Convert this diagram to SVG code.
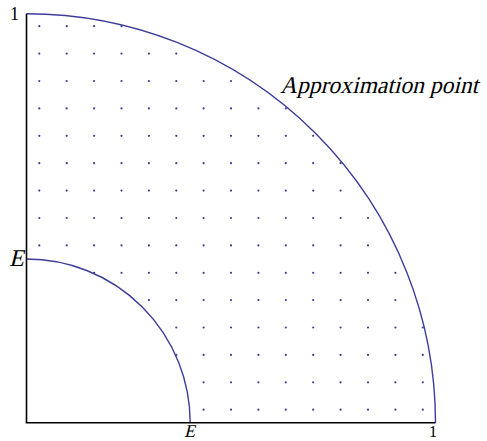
<svg xmlns="http://www.w3.org/2000/svg" width="487" height="441" viewBox="0 0 487 441">
<style>
.ax{stroke:#000;stroke-width:1.6;fill:none}
.arc{stroke:#3d3d9c;stroke-width:1.4;fill:none}
.dots circle{fill:#3d3d9c}
</style>
<rect width="487" height="441" fill="#fff"/>
<g id="dots" class="dots">
<circle cx="203.6" cy="409.7" r="1.1"/><circle cx="231.0" cy="409.7" r="1.1"/><circle cx="258.4" cy="409.7" r="1.1"/><circle cx="285.8" cy="409.7" r="1.1"/><circle cx="313.2" cy="409.7" r="1.1"/><circle cx="340.6" cy="409.7" r="1.1"/><circle cx="368.0" cy="409.7" r="1.1"/><circle cx="395.4" cy="409.7" r="1.1"/><circle cx="422.8" cy="409.7" r="1.1"/>
<circle cx="203.6" cy="382.3" r="1.1"/><circle cx="231.0" cy="382.3" r="1.1"/><circle cx="258.4" cy="382.3" r="1.1"/><circle cx="285.8" cy="382.3" r="1.1"/><circle cx="313.2" cy="382.3" r="1.1"/><circle cx="340.6" cy="382.3" r="1.1"/><circle cx="368.0" cy="382.3" r="1.1"/><circle cx="395.4" cy="382.3" r="1.1"/><circle cx="422.8" cy="382.3" r="1.1"/>
<circle cx="176.3" cy="354.9" r="1.1"/><circle cx="203.6" cy="354.9" r="1.1"/><circle cx="231.0" cy="354.9" r="1.1"/><circle cx="258.4" cy="354.9" r="1.1"/><circle cx="285.8" cy="354.9" r="1.1"/><circle cx="313.2" cy="354.9" r="1.1"/><circle cx="340.6" cy="354.9" r="1.1"/><circle cx="368.0" cy="354.9" r="1.1"/><circle cx="395.4" cy="354.9" r="1.1"/><circle cx="422.8" cy="354.9" r="1.1"/>
<circle cx="176.3" cy="327.5" r="1.1"/><circle cx="203.6" cy="327.5" r="1.1"/><circle cx="231.0" cy="327.5" r="1.1"/><circle cx="258.4" cy="327.5" r="1.1"/><circle cx="285.8" cy="327.5" r="1.1"/><circle cx="313.2" cy="327.5" r="1.1"/><circle cx="340.6" cy="327.5" r="1.1"/><circle cx="368.0" cy="327.5" r="1.1"/><circle cx="395.4" cy="327.5" r="1.1"/><circle cx="422.8" cy="327.5" r="1.1"/>
<circle cx="148.9" cy="300.1" r="1.1"/><circle cx="176.3" cy="300.1" r="1.1"/><circle cx="203.6" cy="300.1" r="1.1"/><circle cx="231.0" cy="300.1" r="1.1"/><circle cx="258.4" cy="300.1" r="1.1"/><circle cx="285.8" cy="300.1" r="1.1"/><circle cx="313.2" cy="300.1" r="1.1"/><circle cx="340.6" cy="300.1" r="1.1"/><circle cx="368.0" cy="300.1" r="1.1"/><circle cx="395.4" cy="300.1" r="1.1"/>
<circle cx="94.1" cy="272.8" r="1.1"/><circle cx="121.5" cy="272.8" r="1.1"/><circle cx="148.9" cy="272.8" r="1.1"/><circle cx="176.3" cy="272.8" r="1.1"/><circle cx="203.6" cy="272.8" r="1.1"/><circle cx="231.0" cy="272.8" r="1.1"/><circle cx="258.4" cy="272.8" r="1.1"/><circle cx="285.8" cy="272.8" r="1.1"/><circle cx="313.2" cy="272.8" r="1.1"/><circle cx="340.6" cy="272.8" r="1.1"/><circle cx="368.0" cy="272.8" r="1.1"/><circle cx="395.4" cy="272.8" r="1.1"/>
<circle cx="39.3" cy="245.4" r="1.1"/><circle cx="66.7" cy="245.4" r="1.1"/><circle cx="94.1" cy="245.4" r="1.1"/><circle cx="121.5" cy="245.4" r="1.1"/><circle cx="148.9" cy="245.4" r="1.1"/><circle cx="176.3" cy="245.4" r="1.1"/><circle cx="203.6" cy="245.4" r="1.1"/><circle cx="231.0" cy="245.4" r="1.1"/><circle cx="258.4" cy="245.4" r="1.1"/><circle cx="285.8" cy="245.4" r="1.1"/><circle cx="313.2" cy="245.4" r="1.1"/><circle cx="340.6" cy="245.4" r="1.1"/><circle cx="368.0" cy="245.4" r="1.1"/>
<circle cx="39.3" cy="218.0" r="1.1"/><circle cx="66.7" cy="218.0" r="1.1"/><circle cx="94.1" cy="218.0" r="1.1"/><circle cx="121.5" cy="218.0" r="1.1"/><circle cx="148.9" cy="218.0" r="1.1"/><circle cx="176.3" cy="218.0" r="1.1"/><circle cx="203.6" cy="218.0" r="1.1"/><circle cx="231.0" cy="218.0" r="1.1"/><circle cx="258.4" cy="218.0" r="1.1"/><circle cx="285.8" cy="218.0" r="1.1"/><circle cx="313.2" cy="218.0" r="1.1"/><circle cx="340.6" cy="218.0" r="1.1"/><circle cx="368.0" cy="218.0" r="1.1"/>
<circle cx="39.3" cy="190.6" r="1.1"/><circle cx="66.7" cy="190.6" r="1.1"/><circle cx="94.1" cy="190.6" r="1.1"/><circle cx="121.5" cy="190.6" r="1.1"/><circle cx="148.9" cy="190.6" r="1.1"/><circle cx="176.3" cy="190.6" r="1.1"/><circle cx="203.6" cy="190.6" r="1.1"/><circle cx="231.0" cy="190.6" r="1.1"/><circle cx="258.4" cy="190.6" r="1.1"/><circle cx="285.8" cy="190.6" r="1.1"/><circle cx="313.2" cy="190.6" r="1.1"/><circle cx="340.6" cy="190.6" r="1.1"/>
<circle cx="39.3" cy="163.2" r="1.1"/><circle cx="66.7" cy="163.2" r="1.1"/><circle cx="94.1" cy="163.2" r="1.1"/><circle cx="121.5" cy="163.2" r="1.1"/><circle cx="148.9" cy="163.2" r="1.1"/><circle cx="176.3" cy="163.2" r="1.1"/><circle cx="203.6" cy="163.2" r="1.1"/><circle cx="231.0" cy="163.2" r="1.1"/><circle cx="258.4" cy="163.2" r="1.1"/><circle cx="285.8" cy="163.2" r="1.1"/><circle cx="313.2" cy="163.2" r="1.1"/><circle cx="340.6" cy="163.2" r="1.1"/>
<circle cx="39.3" cy="135.8" r="1.1"/><circle cx="66.7" cy="135.8" r="1.1"/><circle cx="94.1" cy="135.8" r="1.1"/><circle cx="121.5" cy="135.8" r="1.1"/><circle cx="148.9" cy="135.8" r="1.1"/><circle cx="176.3" cy="135.8" r="1.1"/><circle cx="203.6" cy="135.8" r="1.1"/><circle cx="231.0" cy="135.8" r="1.1"/><circle cx="258.4" cy="135.8" r="1.1"/><circle cx="285.8" cy="135.8" r="1.1"/><circle cx="313.2" cy="135.8" r="1.1"/>
<circle cx="39.3" cy="108.4" r="1.1"/><circle cx="66.7" cy="108.4" r="1.1"/><circle cx="94.1" cy="108.4" r="1.1"/><circle cx="121.5" cy="108.4" r="1.1"/><circle cx="148.9" cy="108.4" r="1.1"/><circle cx="176.3" cy="108.4" r="1.1"/><circle cx="203.6" cy="108.4" r="1.1"/><circle cx="231.0" cy="108.4" r="1.1"/><circle cx="258.4" cy="108.4" r="1.1"/><circle cx="285.8" cy="108.4" r="1.1"/>
<circle cx="39.3" cy="81.0" r="1.1"/><circle cx="66.7" cy="81.0" r="1.1"/><circle cx="94.1" cy="81.0" r="1.1"/><circle cx="121.5" cy="81.0" r="1.1"/><circle cx="148.9" cy="81.0" r="1.1"/><circle cx="176.3" cy="81.0" r="1.1"/><circle cx="203.6" cy="81.0" r="1.1"/><circle cx="231.0" cy="81.0" r="1.1"/>
<circle cx="39.3" cy="53.6" r="1.1"/><circle cx="66.7" cy="53.6" r="1.1"/><circle cx="94.1" cy="53.6" r="1.1"/><circle cx="121.5" cy="53.6" r="1.1"/><circle cx="148.9" cy="53.6" r="1.1"/><circle cx="176.3" cy="53.6" r="1.1"/>
<circle cx="39.3" cy="26.2" r="1.1"/><circle cx="66.7" cy="26.2" r="1.1"/><circle cx="94.1" cy="26.2" r="1.1"/><circle cx="121.5" cy="26.2" r="1.1"/>
</g>
<g id="arcs">
<path class="arc" d="M26.5,13.7 A409,409 0 0 1 435.5,422.7"/>
<path class="arc" d="M26.5,259 A163.7,163.7 0 0 1 190.2,422.7"/>
</g>
<g id="axes">
<path class="ax" d="M26.5,13.7 V422.7 H435.5"/>
</g>
<g id="labels" font-family="'Liberation Serif', 'Times New Roman', serif" fill="#000">
<text x="10" y="19.5" font-size="18">1</text>
<text transform="translate(9,265.5) skewX(-14)" x="0" y="0" font-size="24">E</text>
<text transform="translate(184,437) skewX(-14)" x="0" y="0" font-size="18">E</text>
<text x="429" y="437" font-size="16">1</text>
<text transform="translate(280,93.3) skewX(-14)" x="0" y="0" font-size="24" textLength="198" lengthAdjust="spacingAndGlyphs">Approximation point</text>
</g>
</svg>
